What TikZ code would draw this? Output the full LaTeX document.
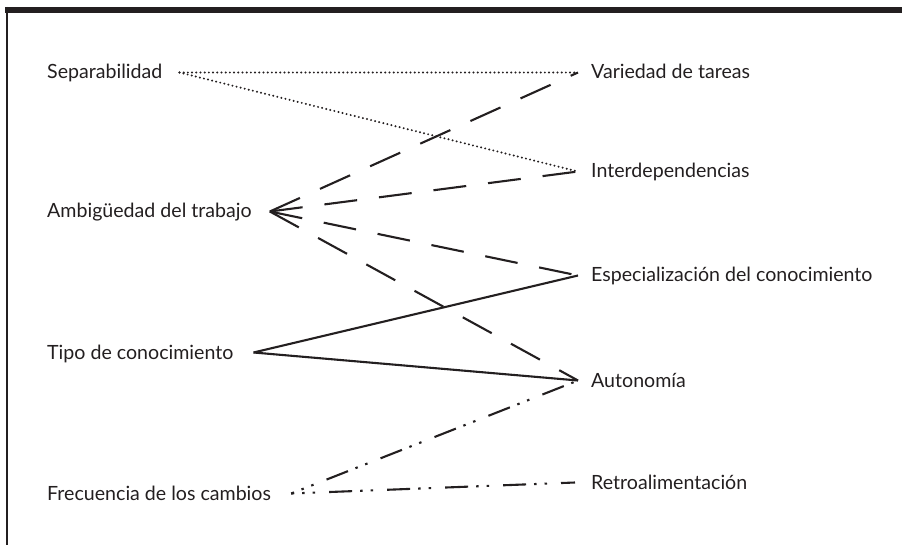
\documentclass[tikz,border=0pt]{standalone}
\usepackage{fontspec}
\setmainfont{Lato}
\definecolor{ink}{HTML}{231F20}
\begin{document}
\begin{tikzpicture}[x=1pt,y=-1pt,
  lbl/.style={inner xsep=0pt, inner ysep=0pt, text height=13pt, text depth=0pt, font=\fontsize{19.6}{21}\selectfont, text=ink},
  lft/.style={lbl, anchor=base west},
  rgt/.style={lbl, anchor=base west},
  link/.style={draw=ink, line width=2.1pt},
  dotline/.style={draw=ink, line width=2.2pt, line cap=round, dash pattern=on 0pt off 4.2pt},
  longdash/.style={link, dash pattern=on 33pt off 22pt},
  dashdotdot/.style={link, dash pattern=on 23pt off 8pt on 2.5pt off 8pt on 2.5pt off 14pt, dash phase=20pt},
]
\useasboundingbox (0,0) rectangle (902,545);
% frame
\fill[ink] (5,7) rectangle (902,13);
\draw[ink, line width=1.2pt] (7,7) -- (7,545);
% left labels
\node[lft] (sep) at (47,79) {Separabilidad};
\node[lft] (amb) at (47,218) {Ambigüedad del trabajo};
\node[lft] (tipo) at (47,359) {Tipo de conocimiento};
\node[lft] (frec) at (47,500) {Frecuencia de los cambios};
% right labels
\node[rgt] (var) at (591,79) {Variedad de tareas};
\node[rgt] (inter) at (591,178) {Interdependencias};
\node[rgt] (esp) at (591,282) {Especialización del conocimiento};
\node[rgt] (aut) at (591,387) {Autonomía};
\node[rgt] (ret) at (591,489) {Retroalimentación};
% connectors
\draw[dotline] ([xshift=17pt]sep.east) -- ([xshift=-13pt]var.west);
\draw[dotline] ([xshift=17pt]sep.east) -- ([xshift=-13pt]inter.west);
\draw[longdash] ([xshift=18pt]amb.east) -- ([xshift=-13pt]var.west);
\draw[longdash] ([xshift=18pt]amb.east) -- ([xshift=-13pt]inter.west);
\draw[longdash] ([xshift=18pt]amb.east) -- ([xshift=-13pt]esp.west);
\draw[longdash] ([xshift=18pt]amb.east) -- ([xshift=-13pt]aut.west);
\draw[link] ([xshift=20pt]tipo.east) -- ([xshift=-13pt]esp.west);
\draw[link] ([xshift=20pt]tipo.east) -- ([xshift=-13pt]aut.west);
\draw[dashdotdot] ([xshift=20pt]frec.east) -- ([xshift=-13pt]aut.west);
\draw[dashdotdot] ([xshift=20pt]frec.east) -- ([xshift=-16pt]ret.west);
\end{tikzpicture}
\end{document}
